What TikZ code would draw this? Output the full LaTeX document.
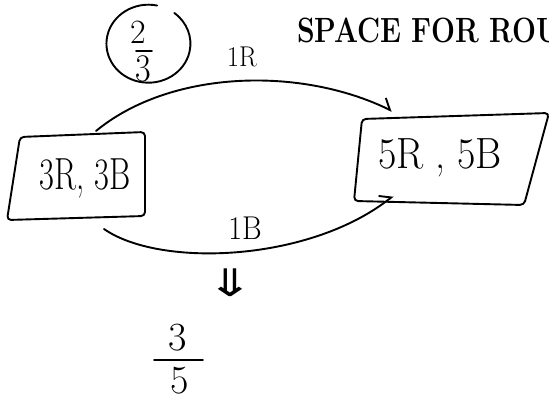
\documentclass[tikz,border=0pt]{standalone}
\usepackage{fontspec}
\usepackage{graphicx}
\newfontfamily\symfont{DejaVu Sans}
\usetikzlibrary{arrows.meta,shapes.geometric}
\tikzset{
  hand/.style={line width=1.9pt, line cap=round, line join=round},
  flow/.style={hand, -{Straight Barb[left, length=9pt, width=18pt, line width=1.9pt]}},
  txt/.style={inner sep=0pt, font=\fontsize{#1}{#1}\selectfont},
}
\begin{document}
\begin{tikzpicture}[x=1pt,y=-1pt]
\useasboundingbox (0,0) rectangle (549,401);
\clip (0,0) rectangle (549,401);
% heading
\node[inner sep=0pt, anchor=base west, font=\fontsize{27}{27}\selectfont\bfseries] (title) at (297,43) {\scalebox{1.05}[1.3]{SPACE FOR ROU}};
% circled 2/3
\node[ellipse, minimum width=84pt, minimum height=78pt, inner sep=0pt] (c23) at (149,44) {};
\draw[hand] (c23.78) arc[start angle=78, end angle=412, x radius=42pt, y radius=39pt];
\node[txt=34] (n2) at (138,32) {2};
\node[txt=34] (n3) at (143,69) {\scalebox{1}[1.15]{3}};
\draw[hand] (136,51) -- (152,51);
% boxes
\draw[hand, rounded corners=4pt] (20,137) -- (145,132) -- (145,216) -- (7,220) -- cycle;
\node[txt=36] (L) at (85,178) {\scalebox{0.9}[1.25]{3R, 3B}};
\draw[hand, rounded corners=4pt] (362,119) -- (549,113) -- (524,205) -- (354,201) -- cycle;
\node[txt=38] (R) at (440,158) {\scalebox{1.05}[1.15]{5R , 5B}};
% connector ends
\coordinate (Lt) at (96,131);
\coordinate (Lb) at (104,229);
\coordinate (Rt) at (392,111);
\coordinate (Rb) at (393,196);
\draw[flow] (Lt) .. controls (170,70) and (300,66) .. (Rt);
\draw[flow] (Lb) .. controls (160,268) and (310,262) .. (Rb);
\node[txt=26] (l1R) at (242,57) {\scalebox{1}[1.1]{1R}};
\node[txt=30] (l1B) at (245,228) {\scalebox{1}[1.1]{1B}};
\node[inner sep=0pt] (down) at (230,283) {\scalebox{1.5}[1]{\symfont\fontsize{38}{38}\selectfont ⇓}};
% answer 3/5
\node[txt=40] (a3) at (178,338) {3};
\node[txt=40] (a5) at (180,381) {5};
\draw[hand] (154,360) -- (203,360);
\end{tikzpicture}
\end{document}
